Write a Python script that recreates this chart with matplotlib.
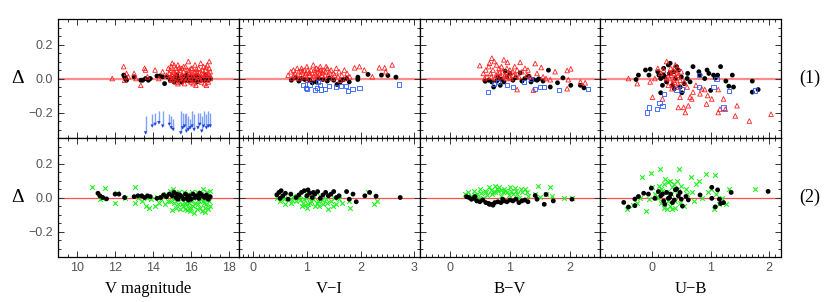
import numpy as np
import matplotlib
matplotlib.use("Agg")
import matplotlib.pyplot as plt
from matplotlib.ticker import MultipleLocator

# ---- data: (x, delta) pairs ----
# row 1, V magnitude
v_red = [(11.85, 0.0), (12.45, 0.07), (12.5, -0.01), (12.6, 0.03), (12.7, 0.01), (13.0, 0.03), (13.1, 0.0),
         (13.35, -0.04), (13.55, 0.06), (13.6, 0.05), (13.7, 0.01), (14.1, 0.05), (14.3, 0.0), (14.5, 0.04),
         (14.7, 0.02), (14.8, 0.06), (14.85, 0.03), (14.9, 0.01), (14.95, -0.01), (15.0, 0.09), (15.05, 0.04),
         (15.1, 0.08), (15.15, 0.02), (15.2, -0.02), (15.25, 0.05), (15.3, 0.08), (15.35, 0.03), (15.4, 0.0),
         (15.45, -0.02), (15.5, 0.06), (15.55, 0.02), (15.6, 0.04), (15.65, -0.03), (15.7, 0.07), (15.75, 0.03),
         (15.8, 0.0), (15.85, 0.1), (15.9, 0.05), (15.95, 0.02), (16.0, -0.02), (16.05, 0.06), (16.1, 0.03),
         (16.15, 0.0), (16.2, 0.08), (16.25, -0.04), (16.3, 0.04), (16.35, 0.02), (16.4, 0.06), (16.45, -0.01),
         (16.5, 0.09), (16.55, 0.03), (16.6, 0.0), (16.65, 0.07), (16.7, -0.03), (16.75, 0.05), (16.8, 0.02),
         (16.85, 0.08), (16.9, -0.02), (16.95, 0.1), (17.0, 0.04), (17.0, 0.0), (16.95, 0.06), (16.9, 0.03),
         (16.8, -0.04), (16.6, 0.05), (16.4, 0.01), (16.2, 0.04), (16.0, 0.06), (15.8, 0.05), (15.6, 0.07),
         (15.4, 0.05), (15.2, 0.06), (15.0, 0.02), (14.9, 0.05), (15.15, 0.01), (15.55, 0.0), (15.9, -0.01),
         (16.3, -0.01), (16.7, 0.02), (16.85, 0.0), (16.55, -0.02), (16.1, -0.03), (15.3, -0.03), (14.95, 0.07),
         (15.12, 0.035), (15.48, 0.015), (15.72, -0.01), (16.08, 0.015), (16.42, 0.035), (16.78, 0.065),
         (16.98, 0.02), (16.62, 0.025), (16.28, 0.055), (15.92, 0.035), (15.38, 0.065), (15.02, -0.005)]
v_blk = [(12.45, 0.02), (12.5, 0.01), (12.6, -0.01), (12.55, 0.0), (13.0, 0.01), (13.35, -0.01), (13.45, -0.01),
         (13.6, 0.0), (13.75, -0.01), (13.85, 0.0), (14.2, 0.015), (14.35, 0.015), (14.5, 0.01), (14.6, -0.03),
         (14.75, 0.01), (14.9, -0.01), (15.0, 0.0), (15.1, -0.02), (15.2, 0.01), (15.3, -0.01), (15.4, 0.0),
         (15.5, -0.02), (15.6, 0.01), (15.7, -0.01), (15.8, 0.0), (15.9, -0.015), (16.0, 0.01), (16.1, -0.01),
         (16.2, 0.0), (16.3, -0.02), (16.4, 0.01), (16.5, -0.01), (16.6, 0.0), (16.7, -0.01), (16.8, 0.01),
         (16.9, -0.01), (17.0, 0.0), (15.25, 0.02), (15.75, 0.02), (16.25, 0.015), (16.75, 0.02)]
# upper-limit arrows: x, top, bottom
v_lim = [(13.6, -0.22, -0.32), (13.95, -0.21, -0.28), (14.1, -0.20, -0.27), (14.3, -0.19, -0.26),
         (14.5, -0.19, -0.28), (14.85, -0.21, -0.27), (14.95, -0.22, -0.29), (15.05, -0.24, -0.30),
         (15.45, -0.19, -0.32), (15.55, -0.20, -0.29), (15.65, -0.21, -0.28), (15.75, -0.20, -0.31),
         (15.85, -0.22, -0.30), (15.95, -0.24, -0.29), (16.05, -0.19, -0.28), (16.15, -0.21, -0.30),
         (16.35, -0.20, -0.29), (16.45, -0.20, -0.27), (16.55, -0.22, -0.31), (16.65, -0.19, -0.28),
         (16.8, -0.21, -0.29), (16.9, -0.19, -0.28), (17.0, -0.20, -0.28)]

# row 1, V-I
vi_red = [(0.65, 0.02), (0.7, 0.04), (0.72, 0.0), (0.75, 0.05), (0.78, 0.03), (0.8, 0.01), (0.85, 0.04),
          (0.88, 0.02), (0.9, 0.06), (0.95, 0.01), (0.98, 0.03), (1.0, 0.07), (1.05, 0.02), (1.08, 0.05),
          (1.1, 0.0), (1.12, 0.08), (1.15, 0.03), (1.18, 0.06), (1.2, 0.01), (1.22, 0.04), (1.25, 0.07),
          (1.28, 0.02), (1.3, 0.05), (1.32, 0.0), (1.35, 0.04), (1.38, 0.06), (1.4, 0.02), (1.45, 0.05),
          (1.48, 0.0), (1.5, 0.03), (1.55, 0.06), (1.58, 0.01), (1.6, 0.04), (1.65, 0.02), (1.7, 0.05),
          (1.72, 0.0), (1.75, 0.03), (1.8, 0.01), (0.82, 0.06), (0.92, 0.04), (1.02, 0.05), (1.06, 0.03),
          (1.14, 0.05), (1.24, 0.03), (1.26, 0.05), (1.34, 0.02), (1.42, 0.04), (1.52, 0.02), (0.95, 0.05),
          (1.17, 0.02), (1.36, 0.07), (0.86, 0.0), (1.62, -0.01), (1.01, -0.01), (1.89, 0.063),
          (1.98, 0.07), (2.07, 0.05), (2.22, 0.01), (2.35, 0.063), (2.45, 0.063), (2.47, 0.04), (2.59, 0.08),
          (0.97, 0.02), (1.04, 0.035), (1.13, 0.015), (1.21, 0.055), (1.29, 0.035), (0.76, 0.02), (0.89, 0.045)]
vi_blk = [(0.71, -0.01), (0.79, 0.004), (0.96, -0.006), (1.17, -0.02), (1.3, -0.006), (1.42, 0.004),
          (1.56, -0.035), (1.68, -0.006), (1.79, -0.02), (1.95, 0.008), (1.95, -0.006), (2.14, 0.024),
          (2.39, 0.02), (2.51, 0.018), (2.66, 0.008), (0.85, -0.015), (1.05, -0.01), (1.1, -0.025),
          (1.22, 0.0), (1.38, -0.015), (1.5, -0.01), (1.62, -0.02), (1.74, 0.0), (0.9, 0.0)]
vi_blu = [(0.92, -0.04), (0.98, -0.055), (1.0, -0.06), (1.05, -0.035), (1.15, -0.067), (1.19, -0.055),
          (1.24, -0.04), (1.27, -0.065), (1.33, -0.06), (1.42, -0.045), (1.55, -0.05), (1.64, -0.045),
          (1.77, -0.075), (1.73, -0.045), (1.85, -0.06), (1.98, -0.055), (2.71, -0.035), (1.21, -0.02)]

# row 1, B-V
bv_red = [(0.5, 0.076), (0.56, 0.03), (0.6, 0.05), (0.62, 0.01), (0.65, 0.07), (0.68, 0.03), (0.7, 0.12),
          (0.72, 0.05), (0.75, 0.0), (0.78, 0.08), (0.8, 0.03), (0.82, 0.06), (0.85, 0.01), (0.88, 0.04),
          (0.9, 0.11), (0.92, 0.02), (0.95, 0.06), (0.96, 0.095), (0.98, 0.03), (1.0, 0.05), (1.02, 0.0),
          (1.05, 0.04), (1.08, 0.07), (1.1, 0.02), (1.12, 0.05), (1.15, 0.01), (1.17, 0.095), (1.2, 0.04),
          (1.25, 0.06), (1.28, 0.02), (1.3, 0.05), (1.34, 0.01), (1.42, 0.088), (1.52, 0.065), (1.75, 0.04),
          (1.95, 0.047), (2.01, 0.057), (1.97, -0.007), (2.17, -0.02), (2.25, -0.025), (1.95, -0.06),
          (1.39, -0.068), (1.12, -0.065), (1.67, -0.007), (0.66, 0.09), (0.74, 0.1), (0.86, 0.07),
          (0.58, 0.0), (0.94, 0.0), (1.45, 0.03), (1.55, 0.01), (1.6, 0.0),
          (0.77, 0.02), (0.83, 0.035), (0.91, 0.015), (0.99, 0.01), (1.06, 0.02), (0.69, 0.01)]
bv_blk = [(0.59, -0.016), (0.73, -0.05), (0.84, -0.04), (0.92, 0.043), (1.0, 0.029), (1.17, 0.033),
          (1.31, 0.014), (1.39, -0.006), (1.48, -0.002), (1.64, 0.049), (1.67, -0.05), (1.79, -0.025),
          (1.88, 0.004), (2.01, -0.04), (2.17, -0.04), (2.23, -0.055), (0.65, -0.01), (0.7, -0.02),
          (0.78, -0.015), (0.85, -0.005), (0.9, -0.02), (0.95, 0.01), (1.05, -0.01), (1.1, 0.005),
          (1.2, -0.015), (1.25, 0.0), (1.35, -0.02), (1.45, -0.01), (1.55, -0.015), (0.8, 0.01)]
bv_blu = [(0.63, -0.08), (0.73, -0.03), (0.8, -0.022), (0.95, -0.04), (1.05, -0.05), (1.24, -0.022),
          (1.42, -0.06), (1.5, -0.05), (1.57, -0.05), (1.82, -0.067), (2.3, -0.06), (1.35, -0.002)]

# row 1, U-B
ub_red = [(-0.4, 0.0), (-0.25, -0.03), (-0.03, -0.02), (0.01, -0.11), (0.18, -0.12), (0.45, -0.17),
          (0.54, -0.17), (0.57, -0.2), (0.62, -0.16), (0.65, -0.11), (0.68, -0.12), (0.82, -0.09),
          (0.9, -0.065), (0.93, -0.15), (1.02, -0.12), (1.13, -0.2), (1.16, -0.18), (1.22, -0.12),
          (1.25, -0.18), (1.45, -0.16), (1.42, -0.22), (1.66, -0.25), (2.03, -0.21), (0.48, -0.11),
          (1.13, -0.065), (0.2, 0.05), (0.25, 0.1), (0.3, 0.0), (0.32, 0.06), (0.35, -0.03), (0.38, 0.03),
          (0.4, 0.08), (0.42, -0.05), (0.45, 0.02), (0.48, -0.01), (0.5, 0.04), (0.28, -0.04), (0.33, 0.02),
          (0.36, 0.05), (0.39, -0.02), (0.41, 0.0), (0.44, 0.06), (0.46, -0.04), (0.3, 0.03), (0.34, -0.06),
          (0.37, -0.01), (0.43, 0.03), (0.25, 0.0), (0.55, -0.02), (0.6, -0.05), (0.7, -0.08), (0.75, -0.04),
          (0.85, -0.06), (0.95, -0.1), (0.15, 0.03), (0.1, 0.06), (0.05, 0.0)]
ub_blk = [(-0.27, -0.006), (-0.23, 0.02), (-0.11, 0.05), (-0.03, 0.055), (-0.05, 0.02), (0.15, -0.084),
          (0.2, 0.02), (0.28, 0.08), (0.31, 0.09), (0.37, 0.04), (0.51, -0.084), (0.61, 0.03), (0.7, 0.07),
          (0.8, 0.04), (0.82, 0.02), (0.94, 0.05), (0.97, 0.03), (1.0, -0.07), (1.05, 0.02), (1.08, 0.003),
          (1.17, 0.07), (1.26, -0.015), (1.31, -0.045), (1.37, 0.02), (1.39, -0.05), (1.71, -0.015),
          (1.71, -0.08), (1.81, -0.065), (0.1, 0.04), (0.15, 0.0), (0.2, 0.06), (0.25, -0.02), (0.3, 0.03),
          (0.35, -0.04), (0.4, 0.0), (0.45, 0.05), (0.5, 0.01), (0.55, -0.03), (0.6, 0.0), (0.18, -0.04),
          (0.38, -0.06), (0.42, 0.07), (0.22, 0.01), (0.48, -0.05), (0.12, 0.02), (0.65, -0.02), (0.9, 0.0),
          (1.12, 0.02)]
ub_blu = [(-0.08, -0.2), (-0.05, -0.17), (0.08, -0.18), (0.13, -0.145), (0.18, -0.16), (0.2, -0.09),
          (0.51, -0.065), (0.8, 0.02), (0.8, -0.05), (1.05, -0.05), (1.1, -0.005), (1.31, -0.075),
          (1.22, -0.17), (1.76, -0.07), (0.42, -0.065)]

# row 2
v_grn = [(10.8, 0.06), (11.2, -0.01), (11.45, 0.055), (11.3, 0.0), (12.0, -0.035), (12.1, 0.025), (12.5, 0.0),
         (13.05, 0.06), (13.05, -0.035), (13.2, 0.0), (13.4, -0.02), (13.6, -0.05), (13.8, -0.06), (13.9, -0.01),
         (14.1, -0.05), (14.3, -0.03), (14.5, 0.01), (14.6, -0.04), (14.7, 0.02), (14.8, -0.02), (14.9, 0.04),
         (15.0, -0.075), (15.05, 0.05), (15.1, -0.03), (15.15, 0.0), (15.2, -0.06), (15.25, 0.02), (15.3, -0.04),
         (15.35, 0.03), (15.4, -0.07), (15.45, -0.01), (15.5, 0.01), (15.55, -0.05), (15.6, 0.03),
         (15.65, -0.03), (15.7, -0.07), (15.75, 0.0), (15.8, -0.04), (15.85, 0.02), (15.9, -0.06),
         (15.95, -0.08), (16.0, -0.02), (16.05, 0.03), (16.1, -0.05), (16.15, -0.09), (16.2, -0.03),
         (16.25, 0.01), (16.3, -0.07), (16.35, -0.04), (16.4, 0.02), (16.45, -0.06), (16.5, -0.01),
         (16.55, -0.08), (16.6, 0.05), (16.65, -0.03), (16.7, -0.06), (16.75, 0.0), (16.8, -0.04),
         (16.85, 0.03), (16.9, -0.07), (16.95, -0.02), (17.0, 0.04), (17.0, -0.05), (16.9, 0.01),
         (16.7, -0.085), (16.4, -0.02), (16.1, 0.0), (15.9, -0.03), (15.7, 0.02), (15.5, -0.04), (15.3, 0.0),
         (15.1, -0.01), (14.9, -0.02), (14.4, -0.01), (14.2, 0.005), (13.7, 0.0), (16.3, 0.03), (16.6, -0.02),
         (16.0, -0.06), (15.8, -0.075), (16.5, 0.02), (16.8, -0.01)]
v_blk2 = [(11.1, 0.025), (11.2, 0.01), (11.35, 0.0), (11.55, -0.008), (12.0, 0.02), (12.2, 0.02), (12.5, 0.0),
          (13.0, 0.005), (13.2, 0.01), (13.4, 0.01), (13.55, 0.0), (13.7, 0.01), (13.85, 0.005), (14.2, -0.005),
          (14.4, 0.0), (14.55, 0.015), (14.7, 0.005), (14.85, 0.02), (15.0, 0.01), (15.1, 0.03), (15.2, 0.0),
          (15.3, -0.01), (15.4, 0.015), (15.5, 0.005), (15.6, -0.01), (15.7, 0.02), (15.8, 0.0), (15.9, 0.01),
          (16.0, -0.01), (16.1, 0.02), (16.2, 0.0), (16.3, 0.01), (16.4, -0.005), (16.5, 0.02), (16.6, 0.01),
          (16.7, 0.0), (16.8, 0.015), (16.9, -0.01), (17.0, 0.005), (15.25, 0.02), (15.85, -0.015),
          (16.45, 0.025)]
vi_grn = [(0.45, 0.0), (0.5, -0.02), (0.55, 0.01), (0.6, -0.04), (0.65, 0.0), (0.7, -0.03), (0.75, 0.01),
          (0.8, -0.02), (0.85, 0.0), (0.9, -0.05), (0.95, -0.01), (1.0, 0.02), (1.0, -0.06), (1.05, -0.03),
          (1.1, 0.0), (1.15, -0.05), (1.2, -0.02), (1.25, 0.01), (1.3, -0.04), (1.35, -0.01), (1.4, -0.065),
          (1.45, -0.02), (1.5, 0.0), (1.55, -0.04), (1.6, -0.01), (1.65, -0.03), (0.92, -0.03), (0.98, 0.0),
          (1.02, -0.04), (1.08, -0.02), (1.12, -0.01), (0.88, -0.015), (0.96, -0.045), (1.18, -0.035),
          (1.28, -0.015), (1.38, -0.03), (1.48, -0.05), (1.8, -0.06), (1.78, -0.02), (2.14, 0.035),
          (2.25, -0.04), (2.3, -0.02), (0.58, -0.01), (0.72, -0.015), (1.22, -0.05)]
vi_blk2 = [(0.44, 0.016), (0.48, 0.03), (0.52, 0.04), (0.55, 0.01), (0.6, 0.025), (0.65, -0.01), (0.7, 0.02),
           (0.8, 0.0), (0.85, 0.015), (0.9, 0.03), (0.95, 0.04), (1.0, 0.01), (1.05, 0.025), (1.1, 0.0),
           (1.15, 0.02), (1.2, 0.035), (1.25, -0.005), (1.3, 0.015), (1.35, 0.03), (1.4, 0.01), (1.45, 0.02),
           (1.5, 0.035), (1.55, 0.0), (1.6, 0.01), (1.74, 0.035), (1.79, -0.01), (1.86, 0.02), (1.92, -0.025),
           (2.08, 0.01), (2.17, 0.03), (2.29, 0.008), (2.74, 0.0), (0.5, -0.005), (1.02, 0.045), (1.12, 0.03)]
bv_grn = [(0.26, 0.02), (0.3, 0.03), (0.35, 0.01), (0.4, 0.04), (0.45, 0.02), (0.5, 0.05), (0.55, 0.0),
          (0.6, 0.03), (0.65, 0.06), (0.7, 0.02), (0.75, 0.07), (0.8, 0.04), (0.85, 0.01), (0.9, 0.05),
          (0.95, 0.03), (1.0, 0.06), (1.05, 0.02), (1.1, 0.04), (1.15, 0.0), (1.2, 0.03), (1.25, 0.05),
          (1.3, 0.01), (0.38, -0.01), (0.48, 0.0), (0.58, 0.04), (0.68, 0.045), (0.72, 0.035), (0.78, 0.05),
          (0.82, 0.06), (0.88, 0.03), (0.92, 0.04), (0.98, 0.015), (1.02, 0.04), (1.08, 0.055), (1.12, 0.02),
          (1.18, 0.05), (1.28, 0.03), (0.62, 0.015), (0.42, 0.015), (1.46, 0.065), (1.42, 0.02), (1.5, 0.005),
          (1.66, 0.06), (1.6, 0.02), (1.7, 0.01), (1.89, 0.0), (2.03, 0.0), (0.52, 0.025), (0.76, 0.03),
          (0.86, 0.045)]
bv_blk2 = [(0.28, 0.005), (0.32, 0.0), (0.36, -0.01), (0.4, -0.005), (0.45, -0.02), (0.5, -0.025),
           (0.55, -0.015), (0.6, -0.03), (0.65, -0.035), (0.7, -0.04), (0.75, -0.03), (0.8, -0.025),
           (0.85, -0.03), (0.9, -0.02), (0.95, -0.025), (1.0, -0.015), (1.05, -0.02), (1.1, -0.01),
           (1.15, -0.03), (1.2, -0.02), (1.25, -0.015), (1.3, -0.025), (0.72, -0.045), (0.66, -0.04),
           (1.42, 0.012), (1.6, 0.018), (1.57, -0.04), (1.72, -0.02), (2.03, -0.01), (1.45, -0.01),
           (0.42, 0.005), (0.88, -0.01)]
ub_grn = [(-0.17, 0.12), (-0.01, 0.145), (0.13, 0.17), (0.46, 0.17), (0.66, 0.12), (0.93, 0.137), (1.08, 0.13),
          (1.76, 0.05), (1.31, 0.05), (-0.43, -0.07), (-0.1, -0.08), (-0.32, -0.045), (0.8, 0.1), (0.95, 0.035),
          (1.06, -0.07), (1.26, -0.04), (0.1, 0.0), (0.15, 0.05), (0.2, 0.08), (0.25, 0.03), (0.3, 0.1),
          (0.35, 0.06), (0.4, -0.02), (0.45, 0.04), (0.5, 0.07), (0.55, -0.05), (0.6, 0.02), (0.2, -0.06),
          (0.25, -0.07), (0.3, -0.05), (0.35, -0.07), (0.4, -0.06), (0.15, -0.03), (0.05, 0.02), (0.0, 0.06),
          (-0.05, -0.01), (0.22, 0.11), (0.28, 0.09), (0.32, 0.02), (0.38, 0.08), (0.18, 0.04), (0.42, 0.1),
          (0.12, 0.07), (0.27, -0.02), (0.48, -0.03), (0.58, 0.05), (0.68, 0.03), (0.75, 0.08), (0.72, -0.02),
          (1.0, 0.05), (1.1, 0.02), (1.15, -0.04), (1.2, 0.0), (-0.25, -0.03), (-0.2, 0.0), (0.85, 0.0)]
ub_blk2 = [(-0.48, -0.029), (-0.4, -0.056), (-0.29, -0.048), (-0.29, -0.009), (-0.23, 0.006), (-0.14, 0.025),
           (-0.06, 0.02), (-0.01, 0.055), (0.11, 0.035), (0.05, -0.005), (0.15, 0.01), (0.2, -0.02), (0.25, 0.03),
           (0.3, 0.0), (0.35, -0.03), (0.4, 0.045), (0.45, 0.01), (0.22, -0.04), (0.32, 0.02), (0.38, -0.015),
           (0.42, 0.05), (0.5, -0.01), (0.18, 0.02), (0.28, -0.005), (0.48, 0.03), (0.58, 0.006),
           (0.62, -0.014), (0.52, -0.05), (0.82, 0.015), (1.02, 0.06), (1.02, -0.005), (1.08, -0.055),
           (1.12, 0.045), (1.15, -0.01), (1.17, -0.035), (1.22, -0.03), (1.35, 0.03), (1.98, 0.036)]

xlabels = ["V magnitude", "V\u2212I", "B\u2212V", "U\u2212B"]
xlims = [(9.0, 18.5), (-0.27, 3.1), (-0.5, 2.5), (-0.88, 2.2)]
xmajor = [2, 1, 1, 1]
xminor = [0.5, 0.1, 0.1, 0.1]
row_tags = ["(1)", "(2)"]

top_sets = [(v_blk, v_red, None), (vi_blk, vi_red, vi_blu), (bv_blk, bv_red, bv_blu), (ub_blk, ub_red, ub_blu)]
bot_sets = [(v_blk2, v_grn), (vi_blk2, vi_grn), (bv_blk2, bv_grn), (ub_blk2, ub_grn)]

RED = "#ff2020"
BLUE = "#2a5cff"
GREEN = "#1ef01e"
TICKC = "#555555"
serif = "Liberation Serif"

fig, axes = plt.subplots(2, 4, figsize=(8.3, 3.02), dpi=100, sharey=True)
fig.subplots_adjust(left=0.0699, right=0.941, top=0.937, bottom=0.149, wspace=0, hspace=0)


def xy(pairs):
    a = np.array(pairs)
    return a[:, 0], a[:, 1]


for j in range(4):
    ax = axes[0, j]
    ax.axhline(0, color="#ff7070", lw=1.6, alpha=0.8, zorder=1)
    blk, red, blu = top_sets[j]
    x, y = xy(blk)
    ax.scatter(x, y, s=12, c="black", edgecolors="none", zorder=3)
    x, y = xy(red)
    ax.scatter(x, y, s=11, marker="^", facecolors="none", edgecolors=RED, linewidths=0.6, zorder=4)
    if blu is not None:
        x, y = xy(blu)
        ax.scatter(x, y, s=9, marker="s", facecolors="none", edgecolors=BLUE, linewidths=0.6, zorder=5)

    ax = axes[1, j]
    ax.axhline(0, color="#ff5050", lw=0.9, zorder=1)
    blk, grn = bot_sets[j]
    x, y = xy(grn)
    ax.scatter(x, y, s=11, marker="x", c=GREEN, linewidths=0.8, zorder=3)
    x, y = xy(blk)
    ax.scatter(x, y, s=12, c="black", edgecolors="none", zorder=4)

# upper-limit arrows in the V magnitude panel
lx = np.array([p[0] for p in v_lim])
ltop = np.array([p[1] for p in v_lim])
lbot = np.array([p[2] for p in v_lim])
axes[0, 0].vlines(lx, ltop, lbot, colors="#7fa2ff", lw=1.0, zorder=3)
axes[0, 0].scatter(lx, lbot, marker="v", s=6, c="#1f45e0", edgecolors="none", zorder=4)

for i in range(2):
    for j in range(4):
        ax = axes[i, j]
        ax.set_xlim(*xlims[j])
        ax.set_ylim(-0.35, 0.35)
        ax.xaxis.set_major_locator(MultipleLocator(xmajor[j]))
        ax.xaxis.set_minor_locator(MultipleLocator(xminor[j]))
        ax.yaxis.set_major_locator(MultipleLocator(0.2))
        ax.yaxis.set_minor_locator(MultipleLocator(0.05))
        ax.tick_params(which="both", direction="in", top=True, right=True, color="#333333",
                       labelsize=9, labelcolor=TICKC, width=0.7)
        ax.tick_params(which="major", length=4)
        ax.tick_params(which="minor", length=2)
        for t in ax.get_xticklabels() + ax.get_yticklabels():
            t.set_fontfamily("Liberation Sans")
        for s in ax.spines.values():
            s.set_linewidth(0.9)
        if i == 0:
            ax.tick_params(labelbottom=False)
        else:
            ax.set_xlabel(xlabels[j], fontfamily=serif, fontsize=12, labelpad=5)
        if j > 0:
            ax.tick_params(labelleft=False)
    axes[i, 0].set_ylabel("\u0394", fontfamily=serif, fontsize=14, rotation=0,
                          labelpad=8, va="center")
    axes[i, 3].text(1.16, 0.5, row_tags[i], transform=axes[i, 3].transAxes, fontfamily=serif,
                    fontsize=13, ha="center", va="center")

fig.savefig("out.png", dpi=100)
